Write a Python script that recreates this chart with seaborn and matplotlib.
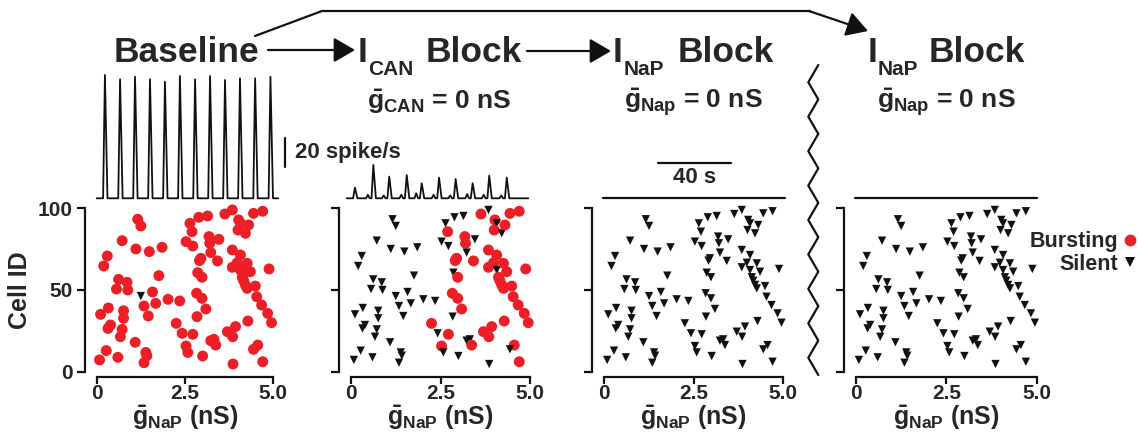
import numpy as np
import pandas as pd
import seaborn as sns
import matplotlib.pyplot as plt
from matplotlib.lines import Line2D

sns.set_theme(style="ticks")
plt.rcParams["font.family"] = ["Liberation Sans", "DejaVu Sans"]
plt.rcParams["font.weight"] = "bold"
plt.rcParams["axes.labelweight"] = "bold"
plt.rcParams["mathtext.fontset"] = "custom"
plt.rcParams["mathtext.rm"] = "Liberation Sans:bold"
plt.rcParams["mathtext.it"] = "Liberation Sans:bold"
plt.rcParams["mathtext.bf"] = "Liberation Sans:bold"

RED = "#ec1f27"
INK = "#111111"

# gbar_NaP (nS) and cell id of each model cell
gnap = [1.16, 1.25, 0.72, 1.11, 1.49, 1.85, 0.30, 0.20, 0.62, 0.86,
        0.56, 0.88, 1.76, 1.25, 1.58, 1.34, 1.67, 2.02, 2.35, 1.46,
        0.33, 0.11, 0.76, 0.76, 0.39, 0.32, 0.72, 0.67, 1.09, 0.27,
        0.08, 0.60, 1.39, 1.42, 1.34, 2.25, 2.42, 2.72, 2.53, 2.58,
        3.00, 2.84, 3.09, 2.83, 2.98, 2.86, 2.98, 2.95, 2.91, 2.53,
        2.72, 2.64, 2.70, 2.89, 3.14, 3.18, 3.20, 3.46, 3.23, 3.42,
        3.63, 3.84, 4.02, 4.07, 4.00, 4.21, 4.30, 4.44, 4.70, 3.84,
        4.07, 3.98, 3.84, 4.07, 4.26, 4.35, 4.12, 4.16, 4.21, 4.26,
        4.49, 4.53, 4.67, 4.84, 4.95, 4.88, 4.28, 3.93, 3.85, 3.70,
        3.23, 3.32, 3.37, 4.56, 4.44, 3.86, 4.70]
cell_id = [93.3, 89.2, 80.2, 75.1, 73.5, 76.1, 70.8, 64.7, 56.5, 54.7,
           50.6, 50.0, 58.8, 46.3, 48.8, 40.2, 41.8, 44.3, 43.3, 34.1,
           39.0, 35.1, 37.3, 32.7, 28.6, 26.5, 25.9, 21.4, 18.0, 12.9,
           7.2, 8.8, 11.8, 9.8, 5.5, 29.6, 23.5, 22.9, 15.7, 11.8,
           9.6, 33.7, 38.4, 48.0, 44.9, 60.6, 57.8, 69.4, 68.0, 79.6,
           76.9, 90.8, 85.7, 94.5, 95.3, 82.7, 78.6, 81.0, 72.9, 67.8,
           96.5, 99.0, 92.9, 90.8, 86.7, 84.7, 89.8, 96.9, 98.2, 74.5,
           71.4, 66.7, 63.9, 62.2, 66.3, 61.2, 57.8, 55.7, 53.1, 51.0,
           52.4, 45.9, 40.8, 35.7, 30.0, 62.9, 31.0, 27.6, 21.4, 24.5,
           19.0, 19.8, 16.3, 16.3, 13.7, 4.7, 6.1]
# the only cell that is already silent at baseline
baseline_silent = [13]
# 1 = still bursting after I_CAN block
ican_bursting = [0, 0, 0, 0, 0, 0, 0, 0, 0, 0,
                 0, 0, 0, 0, 0, 0, 0, 0, 0, 0,
                 0, 0, 0, 0, 0, 0, 0, 0, 0, 0,
                 0, 0, 0, 0, 0, 1, 0, 1, 1, 0,
                 0, 0, 1, 1, 1, 0, 1, 1, 1, 0,
                 0, 0, 1, 0, 0, 1, 1, 0, 0, 1,
                 1, 0, 1, 0, 1, 0, 1, 1, 1, 1,
                 1, 1, 1, 0, 1, 1, 1, 1, 1, 1,
                 1, 1, 1, 1, 1, 1, 1, 1, 1, 1,
                 0, 0, 1, 1, 0, 0, 1]

# population rate, peak time (s) and peak rate (spike/s)
base_peak_t = [4.5, 12.8, 21.0, 29.2, 37.4, 45.6, 53.9, 62.1, 70.3, 78.5, 86.8, 95.2]
base_peak_h = [86.8, 83.8, 85.6, 83.8, 82.1, 86.1, 83.8, 86.1, 83.3, 84.5, 84.5, 85.6]
ican_peak_t = [4.5, 14.6, 23.3, 32.9, 41.1, 50.6, 59.7, 69.0, 78.1, 87.7]
ican_peak_h = [7.5, 23.5, 15.3, 16.4, 10.6, 14.6, 13.6, 10.6, 16.0, 14.6]
ican_bump_h = [0.0, 2.5, 2.0, 2.5, 3.5, 2.5, 2.0, 3.0, 2.5, 2.0]

titles = ["Baseline", ("I", "CAN", "Block"), ("I", "NaP", "Block"), ("I", "NaP", "Block")]
subtitles = [None, r"$\bar{g}_{CAN}$ = 0 nS", r"$\bar{g}_{Nap}$ = 0 nS", r"$\bar{g}_{Nap}$ = 0 nS"]

W, H = 1139, 443
fig = plt.figure(figsize=(W / 100, H / 100), dpi=100)


def rect(x0, x1, ytop, ybot):
    return [x0 / W, 1 - ybot / H, (x1 - x0) / W, (ybot - ytop) / H]


n = len(gnap)
states = [
    ["Silent" if i in baseline_silent else "Bursting" for i in range(n)],
    ["Bursting" if f else "Silent" for f in ican_bursting],
    ["Silent"] * n,
    ["Silent"] * n,
]

px0 = [96.7, 351.0, 604.3, 856.0]
px5 = [273.3, 530.0, 783.3, 1036.7]
tr0 = [96.7, 346.7, 603.3, 855.0]
PX_S, PX_R, TR_BASE = 1.825, 1.42, 198.3


def trace(peak_t, peak_h, bumps=None):
    t, r = [0.0], [0.0]
    for k, (tk, hk) in enumerate(zip(peak_t, peak_h)):
        if bumps is not None and bumps[k] > 0:
            t += [tk - 4.0, tk - 3.0, tk - 2.0]
            r += [0, bumps[k], 0]
        t += [tk - 1.0, tk, tk + 1.4]
        r += [0, hk, 0]
    t.append(99.5)
    r.append(0.0)
    return t, r


traces = [trace(base_peak_t, base_peak_h), trace(ican_peak_t, ican_peak_h, ican_bump_h),
          ([0, 99.5], [0, 0]), ([0, 99.5], [0, 0])]

for i in range(4):
    ax = fig.add_axes(rect(px0[i], px5[i], 208.3, 371.7))
    df = pd.DataFrame({"gnap": gnap, "cell": cell_id, "state": states[i]})
    sns.scatterplot(data=df, x="gnap", y="cell", hue="state", style="state", size="state",
                    hue_order=["Bursting", "Silent"], style_order=["Bursting", "Silent"],
                    size_order=["Bursting", "Silent"],
                    palette={"Bursting": RED, "Silent": INK},
                    markers={"Bursting": "o", "Silent": "v"},
                    sizes={"Bursting": 62, "Silent": 36},
                    linewidth=0, legend=False, clip_on=False, ax=ax)
    ax.set_xlim(0, 5)
    ax.set_ylim(0, 100)
    ax.set_xticks([0, 2.5, 5])
    ax.set_xticklabels(["0", "2.5", "5.0"])
    ax.set_yticks([0, 50, 100])
    if i == 0:
        ax.set_ylabel("Cell ID", fontsize=18, labelpad=4)
    else:
        ax.set_yticklabels([])
        ax.set_ylabel("")
    ax.set_xlabel(r"$\bar{g}_{NaP}$ (nS)", fontsize=18, labelpad=0)
    ax.tick_params(direction="out", length=6, width=1.6, labelsize=15, pad=3, color=INK)
    ax.tick_params(axis="x", length=5, pad=0)
    for s in ax.spines.values():
        s.set_linewidth(1.6)
        s.set_color(INK)
    sns.despine(ax=ax, offset={"left": 8.6, "bottom": 4.0}, trim=True)

    # population rate trace above the raster
    tx = fig.add_axes(rect(tr0[i], tr0[i] + 100 * PX_S, TR_BASE - 90 * PX_R, TR_BASE))
    t, r = traces[i]
    tx.plot(t, r, color=INK, lw=1.3 if i < 2 else 1.6, clip_on=False)
    tx.set_xlim(0, 100)
    tx.set_ylim(0, 90)
    tx.axis("off")
    if i == 0:
        tx.plot([103.2, 103.2], [22.3, 42.3], color=INK, lw=1.6, clip_on=False)
        tx.text(108.5, 32.1, "20 spike/s", fontsize=16, va="center", ha="left")
    if i == 2:
        tx.plot([30.1, 70.1], [24.6, 24.6], color=INK, lw=1.6, clip_on=False)
        tx.text(50.1, 14.5, "40 s", fontsize=16, va="center", ha="center")

# overlay in pixel units for titles, arrows and the break mark
ov = fig.add_axes([0, 0, 1, 1])
ov.set_xlim(0, W)
ov.set_ylim(H, 0)
ov.axis("off")

ov.text(186.5, 62, titles[0], fontsize=25.5, ha="center", va="baseline")
title_pos = [None, (358, 368, 426), (613, 624, 678), (868, 878, 929)]
for i in range(1, 4):
    xi, xs, xb = title_pos[i]
    main, sub, rest = titles[i]
    ov.text(xi, 62, main, fontsize=25.5, ha="left", va="baseline")
    ov.text(xs, 75, sub, fontsize=15, ha="left", va="baseline")
    ov.text(xb, 62, rest, fontsize=25.5, ha="left", va="baseline")
sub_cx = [None, 438.5, 693.5, 946]
for i in range(1, 4):
    ov.text(sub_cx[i], 109, subtitles[i], fontsize=19, ha="center", va="baseline")

arrow = dict(arrowstyle="-|>,head_length=0.65,head_width=0.38", lw=1.6, color=INK,
             mutation_scale=20, shrinkA=0, shrinkB=0)
ov.annotate("", xy=(355, 50), xytext=(268, 50), arrowprops=arrow)
ov.annotate("", xy=(611, 51), xytext=(527, 51), arrowprops=arrow)
ov.plot([255, 322, 810], [36, 11, 11], color=INK, lw=1.6)
ov.annotate("", xy=(868, 31), xytext=(809, 11), arrowprops=arrow)

zy = np.linspace(65, 375, 19)
zx = [818.3 if k % 2 == 0 else 808.3 for k in range(19)]
ov.plot(zx, zy, color=INK, lw=1.6)

handles = [Line2D([], [], marker="o", ls="", color=RED, markersize=8.5, markeredgewidth=0),
           Line2D([], [], marker="v", ls="", color=INK, markersize=7, markeredgewidth=0)]
fig.legend(handles, ["Bursting", "Silent"], loc="center right", bbox_to_anchor=(0.999, 1 - 253 / H),
           frameon=False, markerfirst=False, fontsize=15.5, handlelength=0.7,
           handletextpad=0.2, labelspacing=0.05, borderpad=0, borderaxespad=0)

fig.savefig("out.png", dpi=100)
